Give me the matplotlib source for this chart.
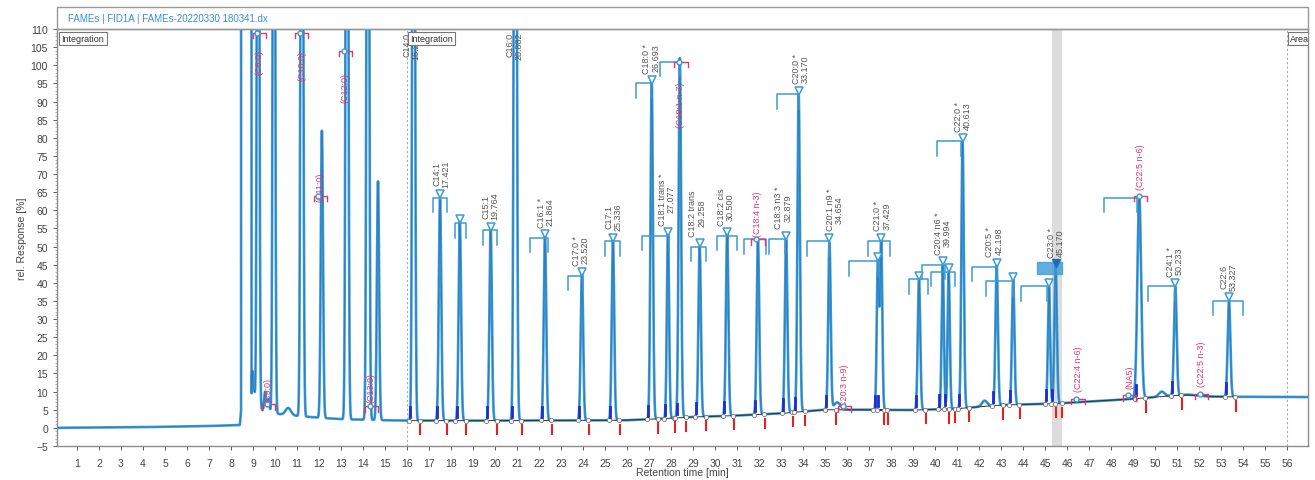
import numpy as np
import matplotlib
matplotlib.use('Agg')
import matplotlib.pyplot as plt
from matplotlib.patches import Rectangle

plt.rcParams['font.family'] = ['Liberation Sans', 'DejaVu Sans']

TRACE = '#3d9ad6'
TRACE_DARK = '#1f6db3'
PINK = '#e8336d'
GREY_TXT = '#555555'

# ── 数据──
# 基线节点 (min, rel. response)
base_t = [0, 4, 7, 8.4, 8.46, 9.3, 9.6, 10.2, 11.0, 12.0, 13.0, 15.0, 16.0, 20.0, 26.0,
          27.5, 29.0, 31.0, 33.0, 35.0, 36.5, 39.0, 41.0, 43.0, 45.5, 46.5, 48.0, 49.0,
          51.5, 52.5, 57.0]
base_v = [0.0, 0.2, 0.5, 0.8, 5.0, 5.0, 4.8, 3.8, 3.3, 2.8, 2.4, 2.1, 2.0, 2.0, 2.1,
          2.5, 3.0, 3.4, 4.0, 5.0, 5.0, 4.9, 5.3, 6.3, 6.7, 7.1, 7.6, 8.0,
          9.2, 8.6, 8.5]

# 溶剂峰（平顶，超出量程）
solvent_start, solvent_end = 8.46, 8.93

# 峰：保留时间 / 峰顶读数 / 宽度
peak_t = [8.97, 9.05, 9.23, 9.55, 9.70, 9.95, 10.6, 11.22, 12.13, 13.27, 14.22, 14.68,
          16.30, 17.50, 18.40, 19.80, 20.92, 22.27, 23.95, 25.36, 27.12, 27.86, 28.40,
          29.30, 30.55, 31.95, 33.23, 33.80, 35.20, 35.55, 37.40, 37.55, 39.27, 40.35,
          40.62, 41.25, 42.25, 42.80, 43.55, 45.18, 45.48, 49.28, 50.30, 50.92, 53.36]
peak_h = [15, 10, 300, 10, 8, 300, 5.5, 300, 82, 300, 300, 68,
          300, 63, 57, 55, 300, 53, 43, 52, 96, 54, 102,
          50, 54, 52, 52, 92, 51, 7, 46, 52, 41, 45,
          43, 79, 7.5, 45, 41, 39, 45, 64, 10, 39, 35]
peak_w = [0.03, 0.04, 0.045, 0.04, 0.04, 0.045, 0.12, 0.05, 0.05, 0.05, 0.05, 0.05,
          0.05, 0.055, 0.055, 0.055, 0.055, 0.055, 0.055, 0.055, 0.055, 0.05, 0.055,
          0.055, 0.055, 0.055, 0.055, 0.055, 0.055, 0.15, 0.05, 0.05, 0.055, 0.05,
          0.05, 0.055, 0.12, 0.055, 0.055, 0.05, 0.055, 0.085, 0.13, 0.06, 0.06]

# 灰色标注：名称, 保留时间文字, 标注位置 x, 三角形 y
lab_name = ['C14:1', 'C15:1', 'C16:1 *', 'C17:0 *', 'C17:1', 'C18:0 *', 'C18:1 trans *',
            'C18:2 trans', 'C18:2 cis', 'C18:3 n3 *', 'C20:0 *', 'C20:1 n9 *', 'C21:0 *',
            'C20:4 n6 *', 'C22:0 *', 'C20:5 *', 'C23:0 *', 'C24:1 *', 'C22:6']
lab_rt = ['17.421', '19.764', '21.864', '23.520', '25.336', '26.693', '27.077',
          '29.258', '30.500', '32.879', '33.170', '34.654', '37.429',
          '39.994', '40.613', '42.198', '45.170', '50.233', '53.327']
lab_x = [17.55, 19.80, 22.30, 23.90, 25.40, 27.10, 27.80, 29.20, 30.50, 33.10, 33.90,
         35.45, 37.60, 40.35, 41.25, 42.70, 45.50, 50.90, 53.35]
lab_y = [63.5, 54.5, 52.5, 42.0, 51.5, 95.0, 53.0, 50.0, 53.0, 52.0, 92.0,
         51.5, 51.5, 45.0, 79.0, 44.5, 44.0, 39.0, 35.0]
# 超出量程的峰（标注贴顶）
top_name = ['C14:0', 'C16:0']
top_rt = ['16.278', '20.882']
top_x = [16.18, 20.90]

# 括号（积分窗）：左, 右, 高度
br_l = [17.2, 18.2, 19.45, 21.6, 23.3, 25.0, 26.4, 26.7, 27.5, 28.9, 30.1, 31.3, 32.45,
        32.8, 34.2, 36.1, 36.95, 38.8, 39.4, 39.8, 40.1, 41.7, 42.3, 43.9, 47.7, 49.7, 52.65]
br_r = [17.8, 18.7, 20.1, 22.4, 24.0, 25.7, 27.1, 27.9, 28.4, 29.6, 31.0, 32.3, 33.2,
        33.8, 35.2, 37.4, 37.95, 39.7, 40.45, 40.9, 41.2, 42.8, 43.55, 45.1, 49.2, 50.9, 54.0]
br_y = [63.5, 56.5, 54.5, 52.5, 42.0, 51.5, 95.0, 53.0, 101.0, 50.0, 53.0, 52.0, 52.0,
        92.0, 51.5, 46.0, 51.5, 41.0, 45.0, 43.0, 79.0, 44.5, 40.5, 39.0, 63.5, 39.0, 35.0]
tri_x = [17.50, 18.40, 19.80, 22.27, 23.95, 25.36, 27.12, 27.86, 29.30, 30.55, 33.23,
         33.80, 35.20, 37.40, 37.55, 39.27, 40.35, 40.62, 41.25, 42.80, 43.55, 45.18, 50.92, 53.36]
tri_y = [63.5, 56.5, 54.5, 52.5, 42.0, 51.5, 95.0, 53.0, 50.0, 53.0, 52.0,
         92.0, 51.5, 46.0, 51.5, 41.0, 45.0, 43.0, 79.0, 44.5, 40.5, 39.0, 39.0, 35.0]

# 粉色标注（参考峰）：文字, x, 文字底部 y
pink_name = ['(C8:0)', '(C9:0)', '(C10:0)', '(C11:0)', '(C12:0)', '(C13:0)', '(C18:1 n-7)',
             '(C18:4 n-3)', '(C20:3 n-9)', '(C22:4 n-6)', '(NA5)', '(C22:5 n-6)', '(C22:5 n-3)']
pink_x = [9.28, 9.70, 11.22, 12.05, 13.20, 14.38, 28.45, 31.95, 35.90, 46.50, 48.85, 49.35, 52.10]
pink_y = [97.5, 7.0, 96.0, 62.5, 90.0, 7.0, 83.0, 53.0, 5.3, 10.2, 11.0, 66.0, 11.6]
pink_mark_y = [109, 6.5, 109, 64, 104, 6.0, 101, 52, 6.0, 8.0, 9.0, 64, 9.4]

# 积分起止（16 min 之后）
int_t = [16.30, 17.50, 18.40, 19.80, 20.92, 22.27, 23.95, 25.36, 27.12, 27.86, 28.40,
         29.30, 30.55, 31.95, 33.23, 33.80, 35.20, 37.40, 37.55, 39.27, 40.35, 40.62,
         41.25, 42.80, 43.55, 45.18, 45.48, 49.28, 50.92, 53.36]

x_ticks = list(range(1, 57))
y_ticks = list(range(-5, 111, 5))

# ── 生成谱线 ──
t = np.arange(0, 57.0, 0.004)
base = np.interp(t, base_t, base_v)
y = base.copy()
y[(t >= solvent_start) & (t <= solvent_end)] += 400
for pt, ph, pw in zip(peak_t, peak_h, peak_w):
    amp = max(ph - np.interp(pt, base_t, base_v), 0)
    y += amp * np.exp(-0.5 * ((t - pt) / pw) ** 2)

# ── 绘图 ──
fig = plt.figure(figsize=(13.15, 4.81), dpi=100)
ax = fig.add_axes([57 / 1315, 1 - 447 / 481, (1308 - 57) / 1315, 417 / 481])

ax.axvspan(45.32, 45.78, color='#dcdcdc', zorder=0, lw=0)
ax.axvline(16.0, color='#aaaaaa', lw=0.8, ls=(0, (2, 2)), zorder=1)
ax.axvline(56.0, color='#aaaaaa', lw=0.8, ls=(0, (2, 2)), zorder=1)

ax.plot(t, y, color=TRACE, lw=1.9, zorder=3, solid_joinstyle='round')
ax.plot(t, y, color=TRACE_DARK, lw=0.5, zorder=3, alpha=0.8)

# 积分基线 + 起止标记
pts = []
for pt in int_t:
    pts += [pt - 0.2, pt + 0.28]
pts = np.array(pts)
pb = np.interp(pts, base_t, base_v)
ax.plot(pts, pb, color='#333333', lw=0.7, zorder=4)
ax.plot(pts, pb, 'o', ms=3, mfc='white', mec='#777777', mew=0.6, zorder=5)
for pt in int_t:
    b0 = np.interp(pt - 0.15, base_t, base_v)
    b1 = np.interp(pt + 0.3, base_t, base_v)
    ax.plot([pt - 0.15, pt - 0.15], [b0 + 1, b0 + 3.8], color='#1a2fd0', lw=2, zorder=5)
    ax.plot([pt + 0.3, pt + 0.3], [b1 - 1.2, b1 - 3.8], color='#e82020', lw=1.5, zorder=5)

# 括号与三角形
for l, r, by in zip(br_l, br_r, br_y):
    ax.plot([l, l, r, r], [by - 4, by, by, by - 4], color=TRACE, lw=1.1, zorder=4)
ax.plot(tri_x, np.array(tri_y) + 1, 'v', ms=6, mfc='white', mec=TRACE, mew=1.1, zorder=6)
ax.add_patch(Rectangle((44.65, 42.5), 1.1, 3.2, fc=TRACE, ec=TRACE, alpha=0.8, zorder=5))
ax.plot([45.48], [45.5], 'v', ms=6, color='#1f6db3', zorder=6)

# 灰色文字
for nm, rt, lx, ly in zip(lab_name, lab_rt, lab_x, lab_y):
    ax.text(lx, ly + 3, f'{nm}\n{rt}', rotation=90, ha='center', va='bottom',
            fontsize=6.5, color=GREY_TXT, linespacing=1.0, zorder=7)
for nm, rt, lx in zip(top_name, top_rt, top_x):
    ax.text(lx, 109.3, f'{nm}\n{rt}', rotation=90, ha='center', va='top',
            multialignment='right', fontsize=6.5, color=GREY_TXT, linespacing=1.0, zorder=7)

# 粉色文字
for nm, px, py, my in zip(pink_name, pink_x, pink_y, pink_mark_y):
    ax.text(px, py, nm, rotation=90, ha='center', va='bottom', fontsize=6.5,
            color=PINK, zorder=7)
    ax.plot([px - 0.3, px - 0.3, px + 0.3, px + 0.3], [my - 1.5, my, my, my - 1.5],
            color=PINK, lw=1.0, zorder=6)
    ax.plot([px - 0.08], [my], 'o', ms=3.5, mfc='white', mec=TRACE, mew=1, zorder=7)

# 方框标签
box = dict(boxstyle='square,pad=0.25', fc='white', ec='#777777', lw=0.8)
ax.text(0.3, 108.6, 'Integration', fontsize=6.5, color='#333333', va='top', bbox=box, zorder=9)
ax.text(16.15, 108.6, 'Integration', fontsize=6.5, color='#333333', va='top', bbox=box, zorder=9)
ax.text(56.15, 108.6, 'Area', fontsize=6.5, color='#333333', va='top', bbox=box, zorder=9,
        clip_on=True)

# ── 坐标轴 ──
ax.set_xlim(0.09, 56.95)
ax.set_ylim(-5, 110)
ax.set_xticks(x_ticks)
ax.set_yticks(y_ticks)
ax.set_yticks(np.arange(-5, 111, 1), minor=True)
ax.tick_params(axis='both', labelsize=7.5, colors='#444444', length=3, width=0.6)
ax.tick_params(axis='y', which='minor', length=1.5, width=0.5, colors='#999999')
ax.tick_params(axis='x', pad=6)
for s in ax.spines.values():
    s.set_color('#8c8c8c')
    s.set_linewidth(1.0)

ax.set_ylabel('rel. Response [%]', fontsize=7.5, color='#444444')
ax.yaxis.set_label_coords(-0.024, 0.5)
fig.text(682 / 1315, 1 - 473 / 481, 'Retention time [min]', fontsize=7.5, color='#444444',
         ha='center', va='center')

# 标题框
fig.add_artist(Rectangle((57 / 1315, 1 - 30 / 481), (1308 - 57) / 1315, 22 / 481,
                         transform=fig.transFigure, fill=False, ec='#999999', lw=1.0))
fig.text(68 / 1315, 1 - 19 / 481, 'FAMEs | FID1A | FAMEs-20220330 180341.dx',
         fontsize=7, color='#3b8fd0', va='center')

fig.savefig('out.png', dpi=100, facecolor='white')
